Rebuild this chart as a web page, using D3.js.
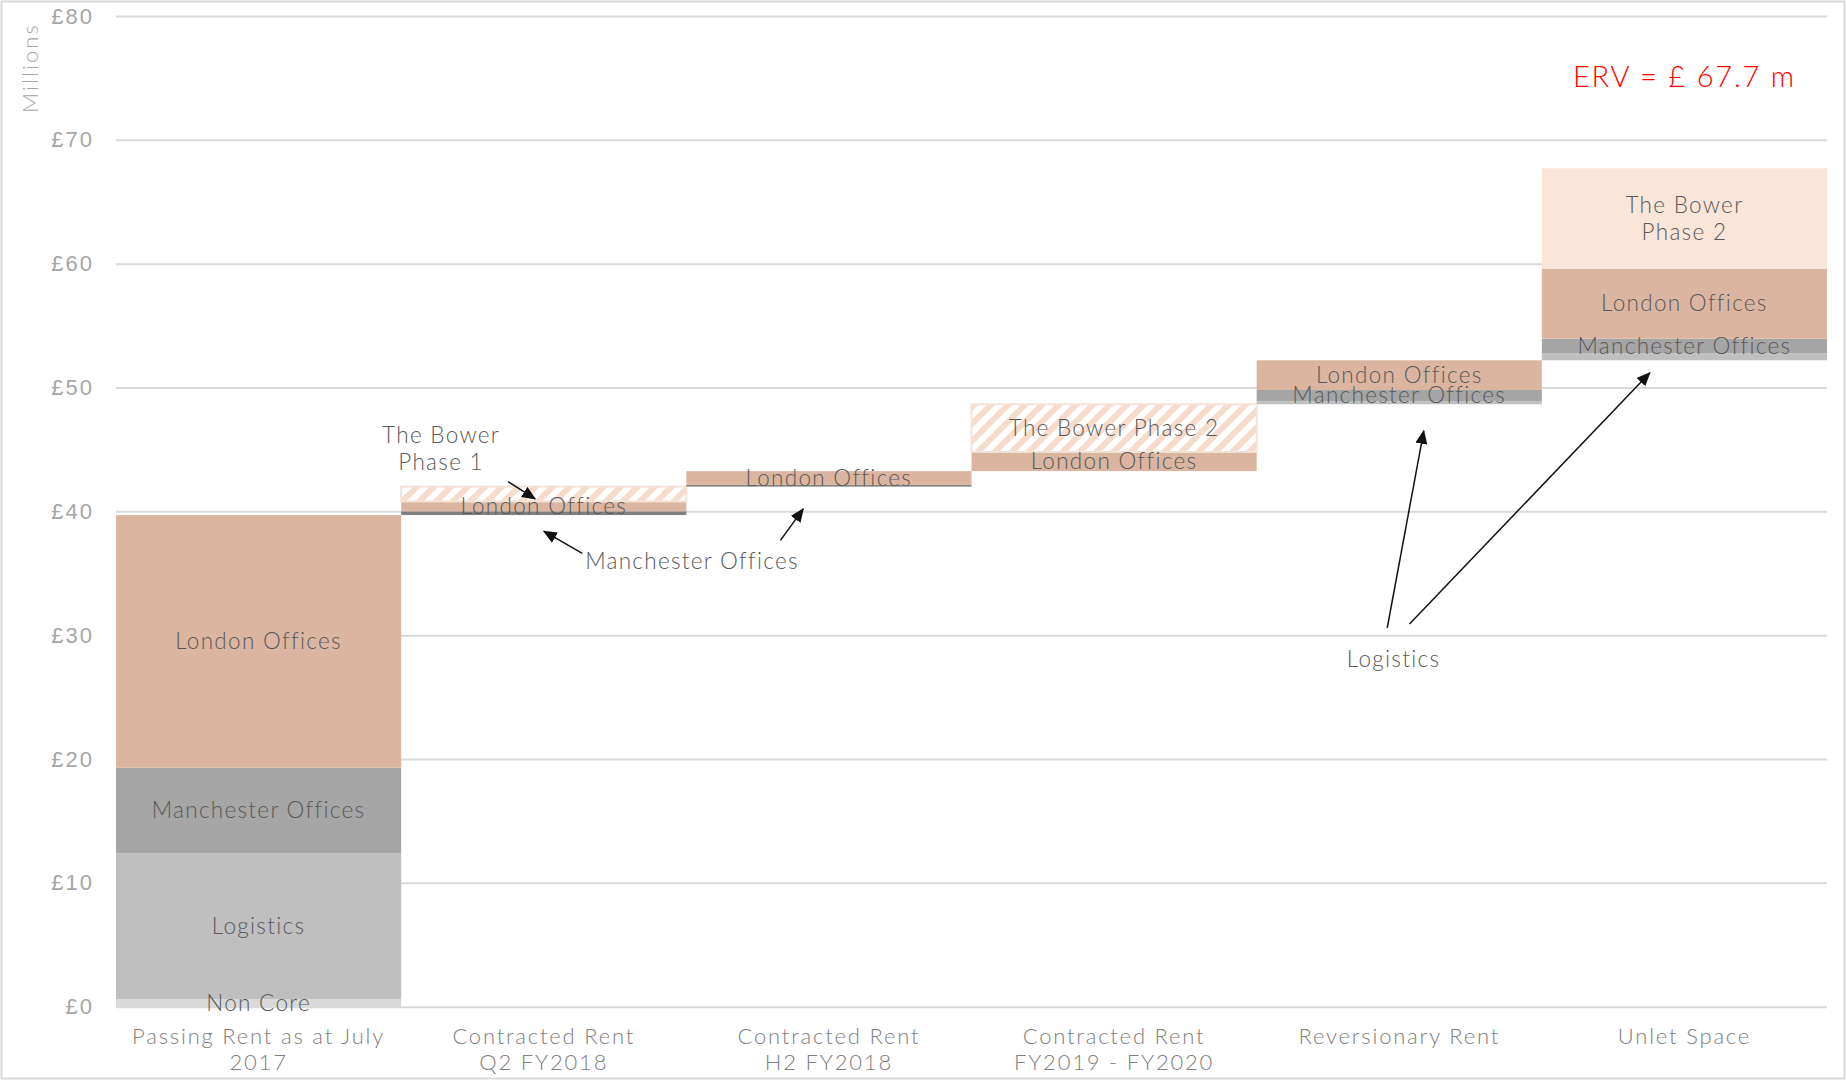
<!DOCTYPE html>
<html>
<head>
<meta charset="utf-8">
<script src="https://cdn.jsdelivr.net/npm/d3@7"></script>
<style>
  html, body { margin: 0; padding: 0; background: #fff; }
  svg { display: block; font-family: "Lato", "Open Sans", sans-serif; }
</style>
</head>
<body>
<svg id="chart" width="1847" height="1081"></svg>
<script>
// Rent bridge: passing rent -> contracted -> reversionary -> unlet (ERV), £ millions
const categories = [
  "Passing Rent as at July 2017",
  "Contracted Rent Q2 FY2018",
  "Contracted Rent H2 FY2018",
  "Contracted Rent FY2019 - FY2020",
  "Reversionary Rent",
  "Unlet Space"
];
const categoryLines = [
  ["Passing Rent as at July", "2017"],
  ["Contracted Rent", "Q2 FY2018"],
  ["Contracted Rent", "H2 FY2018"],
  ["Contracted  Rent", "FY2019 - FY2020"],
  ["Reversionary Rent"],
  ["Unlet Space"]
];

// Increment added by each component in each step (£m)
const nonCore       = [0.6, 0,    0,    0,    0,    0];
const logistics     = [11.8, 0,   0,    0,    0.25, 0.55];
const manchester    = [6.9, 0.3,  0.15, 0,    0.9,  1.2];
const london        = [20.4, 0.8, 1.1,  1.55, 2.4,  5.65];
const bowerLet      = [0,   1.2,  0,    3.85, 0,    0];
const bowerUnlet    = [0,   0,    0,    0,    0,    8.1];

// Labels written inside the segments ("" = no inner label)
const nonCoreLabels    = ["Non Core", "", "", "", "", ""];
const logisticsLabels  = ["Logistics", "", "", "", "", ""];
const manchesterLabels = ["Manchester Offices", "", "", "", "Manchester Offices", "Manchester Offices"];
const londonLabels     = ["London Offices", "London Offices", "London Offices", "London Offices", "London Offices", "London Offices"];
const bowerLetLabels   = ["", "", "", "The Bower Phase 2", "", ""];
const bowerUnletLabels = ["", "", "", "", "", "The Bower|Phase 2"];

const yTicks = [0, 10, 20, 30, 40, 50, 60, 70, 80];
const ervTotal = 67.7;

// Callouts in data space: x in category units (0 = left edge of first bar), y in £m
const calloutTexts = [
  { lines: ["The Bower", "Phase 1"], x: 1.14, y: 45.1 },
  { lines: ["Manchester Offices"], x: 2.02, y: 35.95 },
  { lines: ["Logistics"], x: 4.48, y: 28.05 }
];
const calloutArrows = [
  { x1: 1.375, y1: 42.4, x2: 1.47, y2: 41.0 },
  { x1: 1.635, y1: 36.6, x2: 1.50, y2: 38.4 },
  { x1: 2.33,  y1: 37.66, x2: 2.41, y2: 40.2 },
  { x1: 4.458, y1: 30.6, x2: 4.586, y2: 46.5 },
  { x1: 4.536, y1: 30.9, x2: 5.379, y2: 51.2 }
];

const series = [
  { key: "nonCore",    values: nonCore,    labels: nonCoreLabels,    fill: "#d9d9d9" },
  { key: "logistics",  values: logistics,  labels: logisticsLabels,  fill: "#bfbfbf" },
  { key: "manchester", values: manchester, labels: manchesterLabels, fill: "#a5a5a5" },
  { key: "london",     values: london,     labels: londonLabels,     fill: "#dbb5a0" },
  { key: "bowerLet",   values: bowerLet,   labels: bowerLetLabels,   fill: "url(#hatch)" },
  { key: "bowerUnlet", values: bowerUnlet, labels: bowerUnletLabels, fill: "#fae5d9" }
];

const W = 1847, H = 1081;
const svg = d3.select("#chart");

const x = d3.scaleBand().domain(categories).range([116, 1827]).padding(0);
const xu = d3.scaleLinear().domain([0, categories.length]).range([116, 1827]);
const y = d3.scaleLinear().domain([0, 80]).range([1006.7, 16]);

// Hatch pattern for let-but-not-yet-income-producing space
const defs = svg.append("defs");
const pat = defs.append("pattern")
  .attr("id", "hatch").attr("patternUnits", "userSpaceOnUse")
  .attr("width", 12).attr("height", 12)
  .attr("patternTransform", "rotate(45)");
pat.append("rect").attr("width", 12).attr("height", 12).attr("fill", "#ffffff");
pat.append("rect").attr("width", 6).attr("height", 12).attr("fill", "#f5dccd");

defs.append("marker")
  .attr("id", "arrow").attr("viewBox", "0 0 14 12")
  .attr("refX", 13).attr("refY", 6)
  .attr("markerWidth", 14).attr("markerHeight", 12)
  .attr("markerUnits", "userSpaceOnUse")
  .attr("orient", "auto")
  .append("path").attr("d", "M0,0 L14,6 L0,12 Z").attr("fill", "#111");

// Outer frame
svg.append("rect").attr("x", 1.5).attr("y", 1.5).attr("width", W - 4).attr("height", H - 4)
  .attr("fill", "none").attr("stroke", "#d9d9d9").attr("stroke-width", 2);

// Gridlines and y axis
const yAxis = d3.axisLeft(y).tickValues(yTicks).tickSize(-(1827 - 116)).tickPadding(22)
  .tickFormat(d => "£" + d);
const gy = svg.append("g").attr("transform", "translate(116,0)").call(yAxis);
gy.select(".domain").remove();
gy.selectAll(".tick line").attr("stroke", "#d9d9d9").attr("stroke-width", 2);
gy.selectAll(".tick text").attr("fill", "#a6a6a6").style("font-size", "22px")
  .style("font-weight", 300).style("letter-spacing", "2px");

svg.append("text")
  .attr("transform", `translate(29,${y(75.8)}) rotate(-90)`)
  .attr("text-anchor", "middle").attr("dominant-baseline", "central")
  .attr("fill", "#a6a6a6").style("font-size", "22px").style("font-weight", 300)
  .style("letter-spacing", "2.1px")
  .text("Millions");

// Waterfall stacking: each step starts where the previous one ended
const totals = categories.map((_, i) => d3.sum(series, s => s.values[i]));
const bases = categories.map((_, i) => d3.sum(totals.slice(0, i)));

const segs = [];
categories.forEach((c, i) => {
  let acc = bases[i];
  series.forEach(s => {
    const v = s.values[i];
    if (v > 0) {
      segs.push({ cat: c, i, key: s.key, y0: acc, y1: acc + v, fill: s.fill, label: s.labels[i] });
      acc += v;
    }
  });
});

const gBars = svg.append("g");
gBars.selectAll("rect").data(segs).join("rect")
  .attr("x", d => x(d.cat))
  .attr("width", x.bandwidth())
  .attr("y", d => y(d.y1))
  .attr("height", d => y(d.y0) - y(d.y1))
  .attr("fill", d => (d.key === "manchester" && y(d.y0) - y(d.y1) < 5) ? "#7f7f7f" : d.fill)
  .attr("stroke", d => d.key === "bowerLet" ? "#f2e3d9" : "none")
  .attr("stroke-width", 2);

const labelStyle = sel => sel
  .attr("text-anchor", "middle")
  .attr("fill", "#595959").style("font-size", "22.5px").style("font-weight", 300)
  .style("letter-spacing", "1.3px");

// Inner segment labels
const gLab = svg.append("g");
segs.filter(d => d.label).forEach(d => {
  const lines = d.label.split("|");
  const cy = (y(d.y0) + y(d.y1)) / 2;
  const lh = 27;
  const t = gLab.append("text").call(labelStyle);
  lines.forEach((ln, k) => {
    t.append("tspan")
      .attr("x", x(d.cat) + x.bandwidth() / 2)
      .attr("y", cy + (k - (lines.length - 1) / 2) * lh)
      .attr("dy", "0.35em")
      .text(ln);
  });
});

// Category labels
const gCat = svg.append("g");
categories.forEach((c, i) => {
  const t = gCat.append("text").attr("text-anchor", "middle")
    .attr("fill", "#808080").style("font-size", "22px").style("font-weight", 300)
    .style("letter-spacing", "1.8px");
  categoryLines[i].forEach((ln, k) => {
    t.append("tspan").attr("x", x(c) + x.bandwidth() / 2)
      .attr("y", 1044 + k * 26).text(ln);
  });
});

// Callouts
const gCall = svg.append("g");
calloutArrows.forEach(a => {
  gCall.append("line")
    .attr("x1", xu(a.x1)).attr("y1", y(a.y1))
    .attr("x2", xu(a.x2)).attr("y2", y(a.y2))
    .attr("stroke", "#111").attr("stroke-width", 1.5)
    .attr("marker-end", "url(#arrow)");
});
calloutTexts.forEach(c => {
  const t = gCall.append("text").call(labelStyle);
  c.lines.forEach((ln, k) => {
    t.append("tspan").attr("x", xu(c.x))
      .attr("y", y(c.y) + (k - (c.lines.length - 1) / 2) * 27)
      .attr("dy", "0.35em").text(ln);
  });
});

// ERV headline
svg.append("text")
  .attr("x", x(categories[5]) + x.bandwidth() / 2)
  .attr("y", y(75.1)).attr("dy", "0.35em")
  .attr("text-anchor", "middle")
  .attr("fill", "#ff0000").style("font-size", "29px").style("font-weight", 300)
  .style("letter-spacing", "1.8px")
  .text("ERV = £ " + ervTotal + " m");
</script>
</body>
</html>
